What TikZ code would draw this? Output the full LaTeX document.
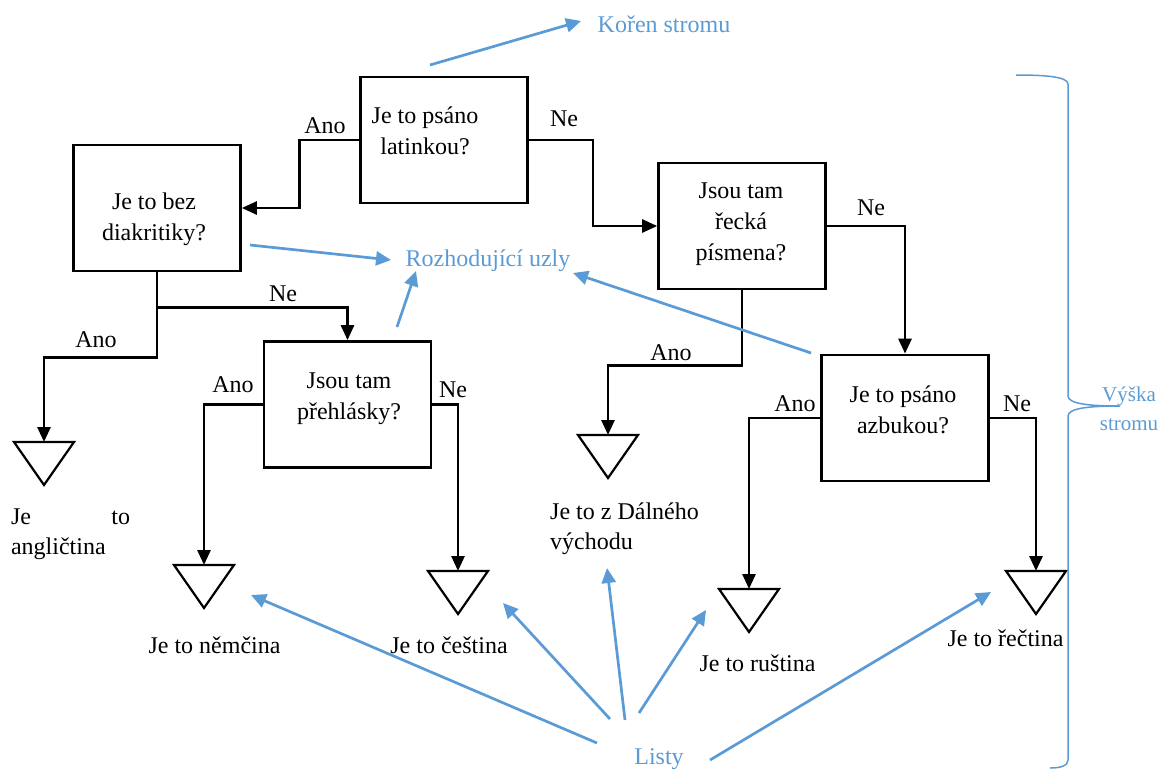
\documentclass[tikz,border=0pt]{standalone}
\usepackage{fontspec}
\setmainfont{Liberation Serif}
\usetikzlibrary{arrows.meta}
\definecolor{accent}{RGB}{91,155,213}
\begin{document}
\begin{tikzpicture}[x=1pt,y=-1pt,
  qbox/.style={draw=black, line width=2.7pt, minimum width=167pt, minimum height=126pt, inner sep=0pt},
  qtext/.style={align=center, inner sep=0pt, font=\fontsize{24}{31}\selectfont},
  ltext/.style={inner sep=0pt, font=\fontsize{24}{30}\selectfont},
  ans/.style={inner sep=0pt, font=\fontsize{24}{28}\selectfont},
  conn/.style={line width=2.7pt, -{Triangle[length=15pt,width=13pt]}},
  leafshape/.style={draw, line width=2.2pt, line join=miter},
  note/.style={inner sep=0pt, text=accent, font=\fontsize{24}{28}\selectfont},
  pointer/.style={draw=accent, line width=2.7pt, -{Triangle[length=15pt,width=14pt]}},
]
\useasboundingbox (0,0) rectangle (1174,769);

% decision boxes
\node[qbox] (b1) at (444,140) {};
\node[qbox] (b2) at (157,208) {};
\node[qbox] (b3) at (742,226) {};
\node[qbox] (b4) at (905,418) {};
\node[qbox] (b5) at (347.5,404.5) {};

\node[qtext] (b1t) at (425,131) {Je to psáno\\latinkou?};
\node[qtext] (b2t) at (154,219) {Je to bez\\diakritiky?};
\node[qtext] (b3t) at (741,224) {Jsou tam\\řecká\\písmena?};
\node[qtext] (b4t) at (903,409.5) {Je to psáno\\azbukou?};
\node[qtext] (b5t) at (349,399) {Jsou tam\\přehlásky?};

% leaves (top centre of each triangle)
\coordinate (t1) at (44,442);
\coordinate (t3) at (608,435);
\coordinate (t4) at (204,565);
\coordinate (t5) at (458,571);
\coordinate (t6) at (749,589);
\coordinate (t7) at (1036,571);
\foreach \t in {t1,t3,t4,t5,t6,t7}
  \draw[leafshape] (\t) ++(-30,0) -- ++(60,0) -- ++(-30,43) -- cycle;

% leaf captions
\node[ltext, align=left] (l1) at (70.5,534.5) {\hbox to 119pt{Je\hfill to}\\angličtina};
\node[ltext, align=left, anchor=west] (l3) at (550,529) {Je to z Dálného\\východu};
\node[ltext] (l4) at (214.5,645) {Je to němčina};
\node[ltext] (l5) at (449,645) {Je to čeština};
\node[ltext] (l6) at (757.5,663) {Je to ruština};
\node[ltext] (l7) at (1005.5,638) {Je to řečtina};

% connectors
\draw[conn] (b1.west) -- ++(-60,0) |- (b2.east);
\draw[conn] (b1.east) -- ++(64,0) |- (b3.west);
\draw[conn] (b3.east) -| (b4.north);
\draw[conn] (b3.south) -- ++(0,75) -| (t3);
\draw[conn] (b2.south) -- ++(0,85) -| (t1);
\path (b2.south) ++(0,35) coordinate (j);
\draw[conn] (j) -| (b5.north);
\draw[conn] (b5.west) -| (t4);
\draw[conn] (b5.east) -| (t5);
\draw[conn] (b4.west) -| (t6);
\draw[conn] (b4.east) -| (t7);

% branch labels
\node[ans] (a1) at (325,126) {Ano};
\node[ans] (n1) at (564,119) {Ne};
\node[ans] (a2) at (96,340) {Ano};
\node[ans] (n2) at (283,294) {Ne};
\node[ans] (a3) at (233,385) {Ano};
\node[ans] (n3) at (453,390) {Ne};
\node[ans] (n4) at (871,208) {Ne};
\node[ans] (a4) at (671,353) {Ano};
\node[ans] (a5) at (795,404) {Ano};
\node[ans] (n5) at (1017,404) {Ne};

% annotations
\node[note] (koren) at (664,24) {Kořen stromu};
\node[note] (uzly) at (488,260.5) {Rozhodující uzly};
\node[note] (listy) at (659,759) {Listy};
\node[note, align=center, font=\fontsize{21}{29}\selectfont] (vyska) at (1129,408.5) {Výška\\stromu};

\coordinate (k0) at (430,65);   \coordinate (k1) at (581,21);
\coordinate (u0) at (250,245);  \coordinate (u1) at (391,260);
\coordinate (u2) at (397,327);  \coordinate (u3) at (416,271);
\coordinate (u4) at (811,353);  \coordinate (u5) at (573,273);
\coordinate (s0) at (597,743);  \coordinate (s1) at (251,595);
\coordinate (s2) at (610,719);  \coordinate (s3) at (503,603);
\coordinate (s4) at (625,720);  \coordinate (s5) at (607,568);
\coordinate (s6) at (639,713);  \coordinate (s7) at (706,610);
\coordinate (s8) at (710,760);  \coordinate (s9) at (991,592);

\draw[pointer] (k0) -- (k1);
\draw[pointer] (u0) -- (u1);
\draw[pointer] (u2) -- (u3);
\draw[pointer] (u4) -- (u5);
\draw[pointer] (s0) -- (s1);
\draw[pointer] (s2) -- (s3);
\draw[pointer] (s4) -- (s5);
\draw[pointer] (s6) -- (s7);
\draw[pointer] (s8) -- (s9);

% height brace
\draw[accent, line width=1.5pt] (1016,75) .. controls (1040,75) and (1068,76) .. (1068,84)
  -- (1068,396) .. controls (1068,404) and (1090,406) .. (1120,406)
  .. controls (1090,406) and (1068,408) .. (1068,416)
  -- (1068,760) .. controls (1068,766) and (1060,768) .. (1050,768);
\end{tikzpicture}
\end{document}
